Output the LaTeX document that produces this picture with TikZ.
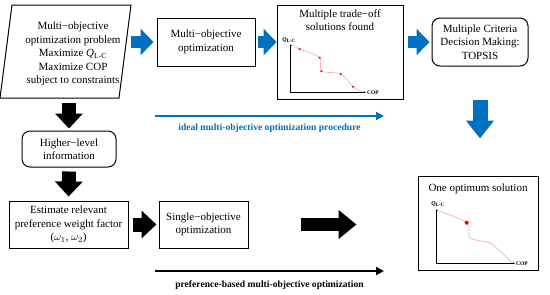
\documentclass[tikz,border=0pt]{standalone}
\usepackage{amsmath}
\usepackage{fontspec}
\setmainfont{Liberation Serif}
\usepackage{xcolor}
\usepackage{tikz}
\usetikzlibrary{arrows.meta}
\usetikzlibrary{calc,positioning}

\definecolor{flowblue}{RGB}{0,112,192}
\definecolor{curvepink}{RGB}{255,175,175}

\begin{document}
\begin{tikzpicture}[x=1pt, y=-1pt,
    box/.style={draw, line width=1pt, align=center, inner sep=0pt,
      font=\fontsize{11}{13.5}\selectfont},
    roundbox/.style={box, rounded corners=8pt},
    bluearrow/.style={flowblue, line width=12pt, -{Triangle[length=13pt,width=26pt]}},
    blackarrow/.style={black, line width=14pt, -{Triangle[length=15pt,width=27pt]}},
    bigarrow/.style={black, line width=13pt, -{Triangle[length=18pt,width=28pt]}},
    axis/.style={line width=1.1pt, {Latex[length=2pt,width=2pt]}-{Latex[length=2pt,width=2pt]}},
    curve/.style={curvepink, line width=0.7pt},
    caption/.style={font=\fontsize{9.6}{10}\selectfont\bfseries},
    axlabel/.style={font=\fontsize{5.5}{6}\selectfont\bfseries, inner sep=0pt}
]

    \useasboundingbox (0,0) rectangle (550,295);

    % Problem (parallelogram)
    \coordinate (pbl) at (0,98);
    \coordinate (ptl) at (12,5);
    \coordinate (ptr) at (131,5);
    \coordinate (pbr) at (119,98);
    \draw[line width=1pt] (pbl) -- (ptl) -- (ptr) -- (pbr) -- cycle;
    \node[align=center, font=\fontsize{11}{13.5}\selectfont] (prob) at (73,54)
      {Multi−objective\\optimization problem\\Maximize \textit{Q}\textsubscript{L-C}\\
       Maximize COP\\subject to constraints};

    % Upper row
    \node[box, minimum width=98, minimum height=48] (mo) at (206,42)
      {Multi−objective\\optimization};
    \node[box, minimum width=126, minimum height=94] (trade) at (340,52) {};
    \node[anchor=north, align=center, font=\fontsize{11}{13.5}\selectfont, inner sep=0pt]
      (tradetitle) at ($(trade.north)+(0,5)$) {Multiple trade−off\\solutions found};
    \node[roundbox, minimum width=96, minimum height=48] (mcdm) at (480,42)
      {Multiple Criteria\\Decision Making:\\TOPSIS};

    % Lower row
    \node[roundbox, minimum width=94, minimum height=36] (higher) at (69,149)
      {Higher−level\\information};
    \node[box, minimum width=119, minimum height=47] (est) at (68.5,224.5)
      {Estimate relevant\\preference weight factor\\($\omega_1$, $\omega_2$)};
    \node[box, minimum width=89, minimum height=47] (single) at (203.5,224.5)
      {Single−objective\\optimization};
    \node[box, minimum width=120, minimum height=94] (one) at (478,223) {};
    \node[anchor=north, font=\fontsize{11}{13.5}\selectfont, inner sep=0pt]
      (onetitle) at ($(one.north)+(0,8)$) {One optimum solution};

    % Block arrows
    \draw[bluearrow, shorten >=3pt] (mo.west -| ptr) -- (mo.west);
    \draw[bluearrow, shorten <=2pt] (mo.east) -- (trade.west |- mo.east);
    \draw[bluearrow, shorten <=4pt, shorten >=2pt] (trade.east |- mcdm.west) -- (mcdm.west);
    \draw[bluearrow, line width=15pt, -{Triangle[length=18pt,width=27pt]},
      shorten <=33pt, shorten >=37pt] (mcdm.south) -- (one.north -| mcdm.south);
    \draw[blackarrow, shorten <=5pt, shorten >=2pt] (higher.north |- pbl) -- (higher.north);
    \draw[blackarrow, shorten <=4pt, shorten >=4pt] (higher.south) -- (est.north);
    \draw[blackarrow, shorten <=4pt, shorten >=2pt] (est.east) -- (single.west);
    \draw[bigarrow, shorten <=52pt, shorten >=61pt] (single.east) -- (one.west |- single.east);

    % Procedure lines
    \coordinate (ideal0) at (155,116);
    \coordinate (ideal1) at (384,116);
    \draw[flowblue, line width=2pt, -{Triangle[length=8pt,width=8pt]}] (ideal0) -- (ideal1)
      node[midway, below=4pt, caption] (ideallabel) {ideal multi-objective optimization procedure};
    \coordinate (pref0) at (155,271);
    \coordinate (pref1) at (384,271);
    \draw[black, line width=2pt, -{Triangle[length=8pt,width=8pt]}] (pref0) -- (pref1)
      node[midway, below=5pt, caption] (preflabel) {preference-based multi-objective optimization};

    % Trade-off plot
    \draw[curve] plot[smooth, tension=0.45] coordinates
      {(290.7,45) (299.7,49) (319.7,57.7) (321.3,71) (340.7,74) (353,86.7) (363,92.3)};
    \draw[axis] (290.7,44) -- (290.7,92.3) -- (366,92.3);
    \foreach \p in {(299.7,49),(319.7,57.7),(321.3,71),(340.7,74),(353,86.7)} {
        \fill[red] \p circle (1.2);
    }
    \node[axlabel, font=\fontsize{6}{6}\selectfont\bfseries] (qa) at (289,40)
      {\textit{Q}\textsubscript{L-C}};
    \node[axlabel, anchor=west] (copa) at (367,92.3) {COP};

    % Optimum plot
    \draw[curve] plot[smooth, tension=0.5] coordinates
      {(436.7,210) (466.7,222.7) (469.3,237) (478,240.5) (490,243) (502,253) (511.7,262.7)};
    \draw[axis] (436.7,209) -- (436.7,263.3) -- (515,263.3);
    \fill[red] (466.7,222.7) circle (2);
    \node[axlabel, font=\fontsize{6}{6}\selectfont\bfseries] (qb) at (438,204)
      {\textit{Q}\textsubscript{L-C}};
    \node[axlabel, anchor=west] (copb) at (516,263.3) {COP};

\end{tikzpicture}
\end{document}
